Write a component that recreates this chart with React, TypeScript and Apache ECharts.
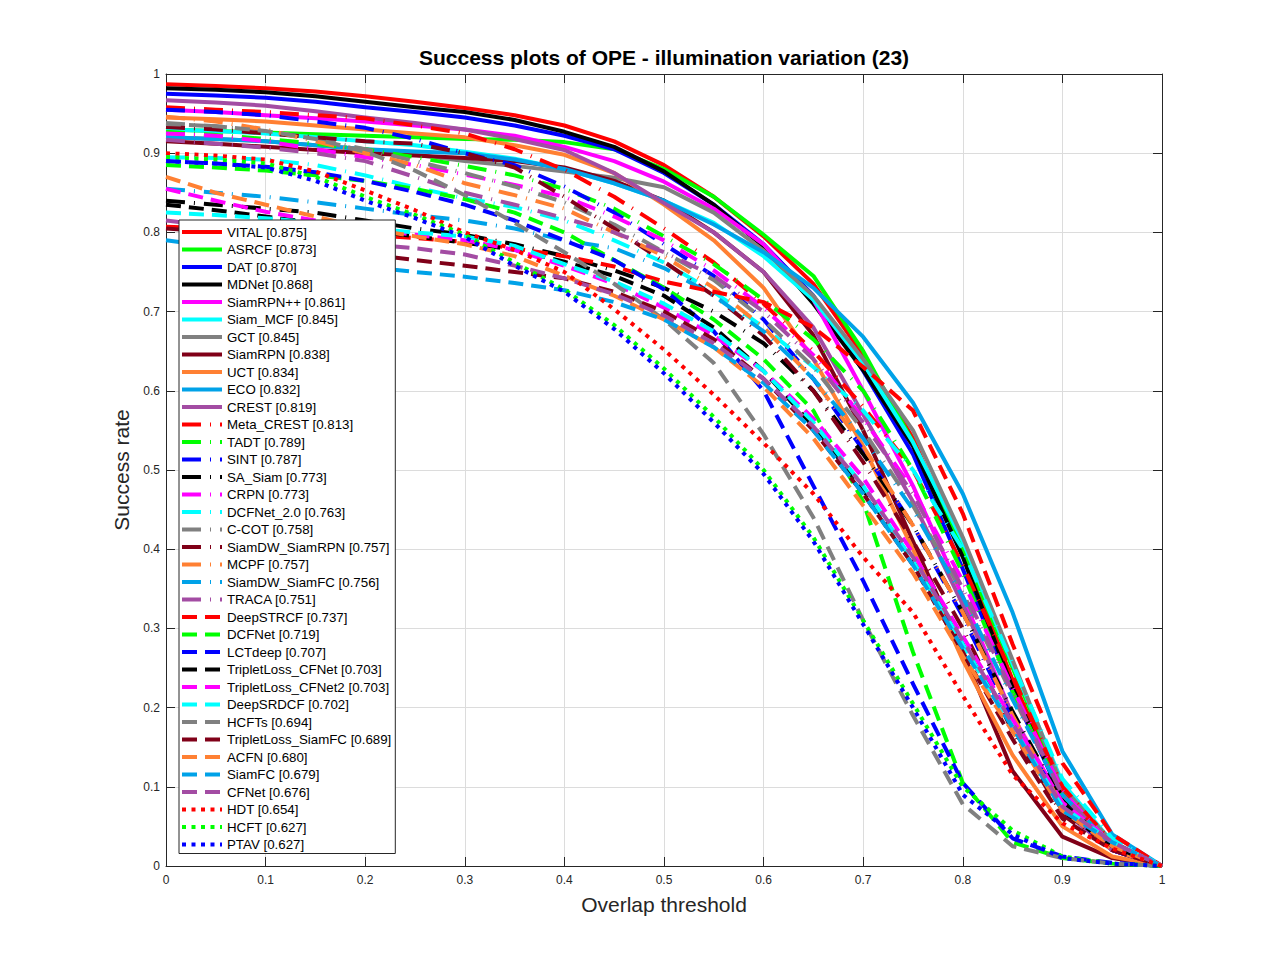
import React, { useEffect, useRef } from "react";
import * as echarts from "echarts";

const thresholds = [0, 0.05, 0.1, 0.15, 0.2, 0.25, 0.3, 0.35, 0.4, 0.45, 0.5, 0.55, 0.6, 0.65, 0.7, 0.75, 0.8, 0.85, 0.9, 0.95, 1];
const xTicks = ["0", "0.1", "0.2", "0.3", "0.4", "0.5", "0.6", "0.7", "0.8", "0.9", "1"];

const trackerNames = [
  "VITAL", "ASRCF", "DAT", "MDNet", "SiamRPN++", "Siam_MCF", "GCT", "SiamRPN", "UCT", "ECO", "CREST",
  "Meta_CREST", "TADT", "SINT", "SA_Siam", "CRPN", "DCFNet_2.0", "C-COT", "SiamDW_SiamRPN", "MCPF", "SiamDW_SiamFC", "TRACA",
  "DeepSTRCF", "DCFNet", "LCTdeep", "TripletLoss_CFNet", "TripletLoss_CFNet2", "DeepSRDCF", "HCFTs", "TripletLoss_SiamFC", "ACFN", "SiamFC", "CFNet",
  "HDT", "HCFT", "PTAV",
];
const scores = [
  "0.875", "0.873", "0.870", "0.868", "0.861", "0.845", "0.845", "0.838", "0.834", "0.832", "0.819",
  "0.813", "0.789", "0.787", "0.773", "0.773", "0.763", "0.758", "0.757", "0.757", "0.756", "0.751",
  "0.737", "0.719", "0.707", "0.703", "0.703", "0.702", "0.694", "0.689", "0.680", "0.679", "0.676",
  "0.654", "0.627", "0.627",
];

const VITAL = [0.987, 0.985, 0.982, 0.978, 0.972, 0.965, 0.957, 0.948, 0.935, 0.915, 0.885, 0.845, 0.795, 0.735, 0.645, 0.54, 0.395, 0.235, 0.095, 0.025, 0];
const ASRCF = [0.93, 0.928, 0.926, 0.924, 0.922, 0.92, 0.918, 0.917, 0.914, 0.905, 0.88, 0.845, 0.797, 0.745, 0.65, 0.535, 0.4, 0.25, 0.1, 0.03, 0];
const DAT = [0.975, 0.973, 0.97, 0.965, 0.958, 0.952, 0.945, 0.935, 0.922, 0.905, 0.875, 0.835, 0.785, 0.72, 0.625, 0.52, 0.375, 0.22, 0.085, 0.02, 0];
const MDNet = [0.982, 0.98, 0.977, 0.972, 0.965, 0.958, 0.952, 0.942, 0.927, 0.908, 0.877, 0.835, 0.782, 0.71, 0.626, 0.53, 0.39, 0.225, 0.085, 0.02, 0];
const SiamRPNpp = [0.955, 0.952, 0.948, 0.944, 0.94, 0.935, 0.93, 0.922, 0.908, 0.89, 0.864, 0.83, 0.785, 0.715, 0.6, 0.48, 0.34, 0.19, 0.08, 0.02, 0];
const Siam_MCF = [0.93, 0.928, 0.925, 0.92, 0.915, 0.91, 0.902, 0.893, 0.88, 0.862, 0.84, 0.812, 0.77, 0.715, 0.635, 0.535, 0.41, 0.255, 0.105, 0.03, 0];
const GCT = [0.92, 0.918, 0.915, 0.91, 0.905, 0.898, 0.89, 0.884, 0.877, 0.869, 0.857, 0.825, 0.777, 0.72, 0.64, 0.55, 0.415, 0.26, 0.1, 0.03, 0];
const SiamRPN = [0.915, 0.912, 0.908, 0.904, 0.9, 0.897, 0.894, 0.89, 0.882, 0.865, 0.84, 0.8, 0.75, 0.67, 0.55, 0.41, 0.27, 0.12, 0.037, 0.01, 0];
const UCT = [0.945, 0.943, 0.94, 0.935, 0.93, 0.925, 0.92, 0.91, 0.898, 0.875, 0.835, 0.79, 0.73, 0.64, 0.53, 0.4, 0.26, 0.14, 0.05, 0.012, 0];
const ECO = [0.92, 0.918, 0.915, 0.91, 0.905, 0.902, 0.9, 0.892, 0.88, 0.862, 0.84, 0.81, 0.775, 0.73, 0.668, 0.585, 0.47, 0.32, 0.145, 0.04, 0];
const CREST = [0.967, 0.964, 0.96, 0.953, 0.945, 0.938, 0.93, 0.918, 0.904, 0.875, 0.837, 0.8, 0.75, 0.68, 0.57, 0.46, 0.33, 0.19, 0.07, 0.02, 0];
const Meta_CREST = [0.958, 0.955, 0.952, 0.948, 0.944, 0.935, 0.925, 0.905, 0.879, 0.845, 0.805, 0.762, 0.71, 0.65, 0.58, 0.5, 0.38, 0.24, 0.1, 0.03, 0];
const TADT = [0.927, 0.923, 0.918, 0.912, 0.905, 0.895, 0.884, 0.872, 0.855, 0.83, 0.795, 0.76, 0.715, 0.665, 0.6, 0.5, 0.37, 0.22, 0.09, 0.025, 0];
const SINT = [0.955, 0.952, 0.948, 0.94, 0.932, 0.918, 0.9, 0.885, 0.858, 0.825, 0.785, 0.745, 0.69, 0.615, 0.525, 0.43, 0.315, 0.185, 0.075, 0.02, 0];
const SA_Siam = [0.84, 0.835, 0.83, 0.825, 0.815, 0.805, 0.797, 0.785, 0.77, 0.752, 0.73, 0.7, 0.66, 0.6, 0.52, 0.43, 0.32, 0.195, 0.08, 0.022, 0];
const CRPN = [0.925, 0.922, 0.915, 0.905, 0.895, 0.885, 0.873, 0.86, 0.845, 0.82, 0.79, 0.752, 0.705, 0.645, 0.565, 0.475, 0.36, 0.225, 0.095, 0.025, 0];
const DCFNet_2 = [0.895, 0.894, 0.892, 0.885, 0.872, 0.857, 0.843, 0.832, 0.815, 0.79, 0.762, 0.725, 0.68, 0.63, 0.575, 0.5, 0.4, 0.255, 0.11, 0.035, 0];
const C_COT = [0.938, 0.934, 0.928, 0.918, 0.905, 0.89, 0.875, 0.858, 0.838, 0.81, 0.775, 0.74, 0.69, 0.63, 0.55, 0.455, 0.345, 0.215, 0.09, 0.025, 0];
const SiamDW_SiamRPN = [0.933, 0.93, 0.925, 0.92, 0.915, 0.912, 0.9, 0.882, 0.845, 0.805, 0.763, 0.72, 0.67, 0.6, 0.51, 0.41, 0.3, 0.17, 0.065, 0.02, 0];
const MCPF = [0.946, 0.94, 0.93, 0.915, 0.9, 0.885, 0.862, 0.847, 0.83, 0.8, 0.77, 0.73, 0.68, 0.615, 0.53, 0.43, 0.32, 0.19, 0.075, 0.02, 0];
const SiamDW_SiamFC = [0.855, 0.85, 0.845, 0.838, 0.83, 0.822, 0.815, 0.805, 0.79, 0.78, 0.755, 0.72, 0.675, 0.615, 0.54, 0.45, 0.34, 0.21, 0.09, 0.025, 0];
const TRACA = [0.917, 0.912, 0.907, 0.9, 0.89, 0.87, 0.85, 0.835, 0.818, 0.8, 0.775, 0.745, 0.7, 0.64, 0.56, 0.47, 0.35, 0.22, 0.09, 0.025, 0];
const DeepSTRCF = [0.807, 0.805, 0.802, 0.8, 0.797, 0.793, 0.788, 0.78, 0.77, 0.757, 0.738, 0.725, 0.712, 0.68, 0.63, 0.575, 0.445, 0.28, 0.13, 0.04, 0];
const DCFNet = [0.885, 0.882, 0.878, 0.872, 0.865, 0.855, 0.842, 0.825, 0.8, 0.765, 0.73, 0.69, 0.64, 0.575, 0.46, 0.27, 0.105, 0.03, 0.01, 0.003, 0];
const LCTdeep = [0.89, 0.887, 0.883, 0.876, 0.865, 0.851, 0.835, 0.815, 0.79, 0.765, 0.728, 0.675, 0.6, 0.48, 0.36, 0.23, 0.105, 0.035, 0.012, 0.004, 0];
const TL_CFNet = [0.835, 0.828, 0.82, 0.812, 0.803, 0.795, 0.787, 0.778, 0.763, 0.745, 0.72, 0.68, 0.625, 0.555, 0.475, 0.385, 0.28, 0.175, 0.07, 0.025, 0];
const TL_CFNet2 = [0.855, 0.84, 0.826, 0.815, 0.805, 0.797, 0.79, 0.778, 0.758, 0.735, 0.705, 0.67, 0.625, 0.565, 0.49, 0.395, 0.29, 0.185, 0.08, 0.03, 0];
const DeepSRDCF = [0.825, 0.822, 0.818, 0.812, 0.805, 0.8, 0.795, 0.783, 0.76, 0.738, 0.71, 0.675, 0.625, 0.56, 0.48, 0.385, 0.28, 0.175, 0.075, 0.03, 0];
const HCFTs = [0.937, 0.934, 0.928, 0.918, 0.902, 0.878, 0.847, 0.812, 0.775, 0.735, 0.69, 0.635, 0.545, 0.44, 0.31, 0.19, 0.078, 0.025, 0.01, 0.003, 0];
const TL_SiamFC = [0.805, 0.8, 0.792, 0.783, 0.773, 0.765, 0.758, 0.75, 0.742, 0.725, 0.7, 0.665, 0.615, 0.55, 0.47, 0.38, 0.27, 0.16, 0.06, 0.02, 0];
const ACFN = [0.87, 0.85, 0.835, 0.82, 0.805, 0.795, 0.785, 0.77, 0.745, 0.72, 0.69, 0.655, 0.605, 0.54, 0.455, 0.37, 0.265, 0.17, 0.07, 0.025, 0];
const SiamFC = [0.79, 0.782, 0.773, 0.765, 0.757, 0.75, 0.744, 0.736, 0.727, 0.712, 0.69, 0.655, 0.61, 0.55, 0.47, 0.38, 0.275, 0.175, 0.07, 0.03, 0];
const CFNet = [0.815, 0.808, 0.8, 0.792, 0.785, 0.78, 0.772, 0.758, 0.742, 0.722, 0.695, 0.66, 0.615, 0.555, 0.48, 0.39, 0.285, 0.18, 0.075, 0.03, 0];
const HDT = [0.9, 0.897, 0.892, 0.877, 0.853, 0.828, 0.8, 0.778, 0.75, 0.703, 0.652, 0.595, 0.534, 0.47, 0.39, 0.32, 0.215, 0.115, 0.054, 0.022, 0];
const HCFT = [0.895, 0.892, 0.887, 0.87, 0.845, 0.822, 0.797, 0.762, 0.728, 0.683, 0.628, 0.567, 0.5, 0.415, 0.31, 0.205, 0.1, 0.045, 0.012, 0.003, 0];
const PTAV = [0.89, 0.887, 0.882, 0.865, 0.84, 0.818, 0.794, 0.758, 0.725, 0.678, 0.622, 0.56, 0.495, 0.41, 0.305, 0.2, 0.09, 0.04, 0.01, 0.003, 0];

const successValues = [
  VITAL, ASRCF, DAT, MDNet, SiamRPNpp, Siam_MCF, GCT, SiamRPN, UCT, ECO, CREST,
  Meta_CREST, TADT, SINT, SA_Siam, CRPN, DCFNet_2, C_COT, SiamDW_SiamRPN, MCPF, SiamDW_SiamFC, TRACA,
  DeepSTRCF, DCFNet, LCTdeep, TL_CFNet, TL_CFNet2, DeepSRDCF, HCFTs, TL_SiamFC, ACFN, SiamFC, CFNet,
  HDT, HCFT, PTAV,
];

// styles
const palette = ["#FF0000", "#00FF00", "#0000FF", "#000000", "#FF00FF", "#00FFFF", "#808080", "#800018", "#FF8033", "#00A2E8", "#A34CA3"];
const dashSolid: any = "solid";
const dashDashDot = [19, 9, 1, 9];
const dashDash = [15, 8];
const dashDot = [4, 5.5];

const FONT = "'Liberation Sans', Arial, Helvetica, sans-serif";
const AXIS_COLOR = "#262626";

function styleFor(i: number) {
  if (i < 11) return { color: palette[i], type: dashSolid };
  if (i < 22) return { color: palette[i - 11], type: dashDashDot };
  if (i < 33) return { color: palette[i - 22], type: dashDash };
  return { color: palette[i - 33], type: dashDot };
}

function buildOption() {
  const names = trackerNames.map((n, i) => `${n} [${scores[i]}]`);
  const series = successValues.map((vals, i) => {
    const st = styleFor(i);
    return {
      name: names[i],
      type: "line",
      data: thresholds.map((t, k) => [t, vals[k]]),
      symbol: "none",
      showSymbol: false,
      smooth: false,
      silent: true,
      color: st.color,
      lineStyle: { width: 4, color: st.color, type: st.type, cap: "butt", join: "round" },
      emphasis: { disabled: true },
      z: 2,
    };
  });
  const fmt = (v: number) => {
    const idx = Math.round(v * 10);
    return xTicks[idx] !== undefined ? xTicks[idx] : String(v);
  };
  const baseAxis = {
    type: "value",
    min: 0,
    max: 1,
    interval: 0.1,
    axisLine: { show: true, onZero: false, lineStyle: { color: AXIS_COLOR, width: 1 } },
    axisTick: { show: true, inside: true, length: 9, lineStyle: { color: AXIS_COLOR, width: 1 } },
  };
  return {
    animation: false,
    backgroundColor: "#ffffff",
    grid: { left: 166, top: 74, width: 996, height: 792, containLabel: false },
    graphic: [
      {
        type: "text",
        x: 664,
        y: 57,
        z: 10,
        style: {
          text: "Success plots of OPE - illumination variation (23)",
          fill: "#000000",
          font: `bold 21px ${FONT}`,
          textAlign: "center",
          textVerticalAlign: "middle",
        },
      },
    ],
    legend: {
      orient: "vertical",
      left: 179,
      top: 220,
      itemWidth: 40,
      itemHeight: 14,
      itemGap: 3.5,
      padding: [5, 4, 2, 1],
      backgroundColor: "#ffffff",
      borderColor: AXIS_COLOR,
      borderWidth: 1,
      borderRadius: 0,
      selectedMode: false,
      textStyle: { fontSize: 13.3, color: "#000000", fontFamily: FONT, lineHeight: 14 },
      lineStyle: { width: 4 },
      itemStyle: { opacity: 0, borderWidth: 0 },
      data: names,
      z: 5,
    },
    xAxis: [
      {
        ...baseAxis,
        position: "bottom",
        name: "Overlap threshold",
        nameLocation: "middle",
        nameGap: 28,
        nameTextStyle: { fontSize: 21, color: AXIS_COLOR, fontFamily: FONT },
        axisLabel: { color: AXIS_COLOR, fontSize: 12, fontFamily: FONT, margin: 8, formatter: fmt },
        splitLine: { show: true, lineStyle: { color: "#dcdcdc", width: 1 } },
      },
      {
        ...baseAxis,
        position: "top",
        axisLabel: { show: false },
        splitLine: { show: false },
      },
    ],
    yAxis: [
      {
        ...baseAxis,
        position: "left",
        name: "Success rate",
        nameLocation: "middle",
        nameGap: 28,
        nameTextStyle: { fontSize: 21, color: AXIS_COLOR, fontFamily: FONT },
        axisLabel: { color: AXIS_COLOR, fontSize: 12, fontFamily: FONT, margin: 6, formatter: fmt },
        splitLine: { show: true, lineStyle: { color: "#dcdcdc", width: 1 } },
      },
      {
        ...baseAxis,
        position: "right",
        axisLabel: { show: false },
        splitLine: { show: false },
      },
    ],
    series,
  };
}

export default function App() {
  const ref = useRef<HTMLDivElement>(null);
  useEffect(() => {
    document.body.style.margin = "0";
    const chart = echarts.init(ref.current as HTMLDivElement, null, { renderer: "svg" });
    chart.setOption(buildOption() as any);
    return () => {
      chart.dispose();
    };
  }, []);
  return <div ref={ref} style={{ width: 1285, height: 972, background: "#ffffff" }} />;
}
